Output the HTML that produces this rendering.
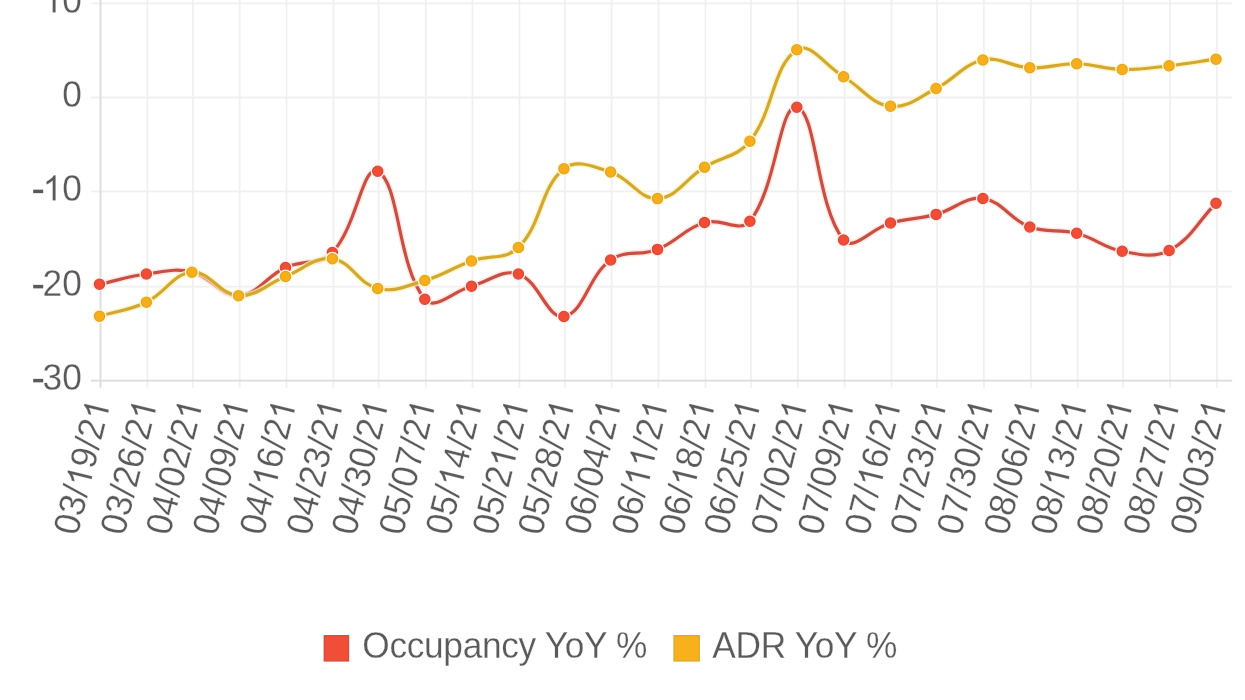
<!DOCTYPE html><html lang="en"><head><meta charset="utf-8"><title>Chart</title><style>
html,body{margin:0;padding:0;background:#fff;}body{width:1245px;height:700px;overflow:hidden;}svg{display:block;filter:blur(0.45px);}text{font-family:"Liberation Sans",sans-serif;fill:#5a5a5a;stroke:#fff;stroke-width:0.24;}
</style></head><body>
<svg width="1245" height="700" viewBox="0 0 1245 700">
<rect width="1245" height="700" fill="#fff"/>
<g stroke="#f0f0f0" stroke-width="1.8" fill="none">
<line x1="147.40" y1="-5" x2="147.40" y2="387.80"/>
<line x1="192.90" y1="-5" x2="192.90" y2="387.80"/>
<line x1="239.60" y1="-5" x2="239.60" y2="387.80"/>
<line x1="286.50" y1="-5" x2="286.50" y2="387.80"/>
<line x1="333.40" y1="-5" x2="333.40" y2="387.80"/>
<line x1="378.70" y1="-5" x2="378.70" y2="387.80"/>
<line x1="425.80" y1="-5" x2="425.80" y2="387.80"/>
<line x1="472.50" y1="-5" x2="472.50" y2="387.80"/>
<line x1="519.40" y1="-5" x2="519.40" y2="387.80"/>
<line x1="564.90" y1="-5" x2="564.90" y2="387.80"/>
<line x1="611.60" y1="-5" x2="611.60" y2="387.80"/>
<line x1="658.50" y1="-5" x2="658.50" y2="387.80"/>
<line x1="705.50" y1="-5" x2="705.50" y2="387.80"/>
<line x1="750.90" y1="-5" x2="750.90" y2="387.80"/>
<line x1="797.80" y1="-5" x2="797.80" y2="387.80"/>
<line x1="844.60" y1="-5" x2="844.60" y2="387.80"/>
<line x1="891.50" y1="-5" x2="891.50" y2="387.80"/>
<line x1="937.10" y1="-5" x2="937.10" y2="387.80"/>
<line x1="983.90" y1="-5" x2="983.90" y2="387.80"/>
<line x1="1030.80" y1="-5" x2="1030.80" y2="387.80"/>
<line x1="1077.70" y1="-5" x2="1077.70" y2="387.80"/>
<line x1="1123.20" y1="-5" x2="1123.20" y2="387.80"/>
<line x1="1170.10" y1="-5" x2="1170.10" y2="387.80"/>
<line x1="1217.00" y1="-5" x2="1217.00" y2="387.80"/>
<line x1="91.00" y1="3.40" x2="1232.20" y2="3.40"/>
<line x1="91.00" y1="97.50" x2="1232.20" y2="97.50"/>
<line x1="91.00" y1="191.40" x2="1232.20" y2="191.40"/>
<line x1="91.00" y1="286.60" x2="1232.20" y2="286.60"/>
</g>
<g stroke="#dcdcdc" stroke-width="1.9" fill="none">
<line x1="100.50" y1="-5" x2="100.50" y2="387.80"/>
<line x1="91.00" y1="380.60" x2="1232.20" y2="380.60"/>
</g>
<g font-size="35.3" text-anchor="end" style="filter:grayscale(1)">
<text transform="translate(81.80 12.60) scale(1 1.045)">&#8199;0</text>
<path d="M763 0h-180v1147q-65-62-170.5-124t-189.5-93v174q151 71 264 172t160 196h116z" fill="#5a5a5a" stroke="#fff" stroke-width="13.9" transform="translate(42.54 12.60) scale(0.01724 -0.01724)"/>
<text transform="translate(81.80 106.70) scale(1 1.045)">0</text>
<text transform="translate(81.80 200.60) scale(1 1.045)">&#8199;0</text>
<path d="M763 0h-180v1147q-65-62-170.5-124t-189.5-93v174q151 71 264 172t160 196h116z" fill="#5a5a5a" stroke="#fff" stroke-width="13.9" transform="translate(42.54 200.60) scale(0.01724 -0.01724)"/>
<rect x="33.2" y="189.65" width="10" height="3.5" fill="#5a5a5a"/>
<text transform="translate(81.80 295.80) scale(1 1.045)">20</text>
<rect x="33.2" y="284.85" width="10" height="3.5" fill="#5a5a5a"/>
<text transform="translate(81.80 389.80) scale(1 1.045)">30</text>
<rect x="33.2" y="378.85" width="10" height="3.5" fill="#5a5a5a"/>
</g>
<g font-size="35.2" text-anchor="end" style="filter:grayscale(1)">
<g transform="translate(98.90 400.60) rotate(-76)"><text transform="translate(0 12) scale(1 1.045)">03/&#8199;9/2&#8199;</text><path d="M763 0h-180v1147q-65-62-170.5-124t-189.5-93v174q151 71 264 172t160 196h116z" fill="#5a5a5a" stroke="#fff" stroke-width="14.0" transform="translate(-88.09 12.00) scale(0.01719 -0.01719)"/><path d="M763 0h-180v1147q-65-62-170.5-124t-189.5-93v174q151 71 264 172t160 196h116z" fill="#5a5a5a" stroke="#fff" stroke-width="14.0" transform="translate(-19.58 12.00) scale(0.01719 -0.01719)"/></g>
<g transform="translate(145.80 400.60) rotate(-76)"><text transform="translate(0 12) scale(1 1.045)">03/26/2&#8199;</text><path d="M763 0h-180v1147q-65-62-170.5-124t-189.5-93v174q151 71 264 172t160 196h116z" fill="#5a5a5a" stroke="#fff" stroke-width="14.0" transform="translate(-19.58 12.00) scale(0.01719 -0.01719)"/></g>
<g transform="translate(191.30 400.60) rotate(-76)"><text transform="translate(0 12) scale(1 1.045)">04/02/2&#8199;</text><path d="M763 0h-180v1147q-65-62-170.5-124t-189.5-93v174q151 71 264 172t160 196h116z" fill="#5a5a5a" stroke="#fff" stroke-width="14.0" transform="translate(-19.58 12.00) scale(0.01719 -0.01719)"/></g>
<g transform="translate(238.00 400.60) rotate(-76)"><text transform="translate(0 12) scale(1 1.045)">04/09/2&#8199;</text><path d="M763 0h-180v1147q-65-62-170.5-124t-189.5-93v174q151 71 264 172t160 196h116z" fill="#5a5a5a" stroke="#fff" stroke-width="14.0" transform="translate(-19.58 12.00) scale(0.01719 -0.01719)"/></g>
<g transform="translate(284.90 400.60) rotate(-76)"><text transform="translate(0 12) scale(1 1.045)">04/&#8199;6/2&#8199;</text><path d="M763 0h-180v1147q-65-62-170.5-124t-189.5-93v174q151 71 264 172t160 196h116z" fill="#5a5a5a" stroke="#fff" stroke-width="14.0" transform="translate(-88.09 12.00) scale(0.01719 -0.01719)"/><path d="M763 0h-180v1147q-65-62-170.5-124t-189.5-93v174q151 71 264 172t160 196h116z" fill="#5a5a5a" stroke="#fff" stroke-width="14.0" transform="translate(-19.58 12.00) scale(0.01719 -0.01719)"/></g>
<g transform="translate(331.80 400.60) rotate(-76)"><text transform="translate(0 12) scale(1 1.045)">04/23/2&#8199;</text><path d="M763 0h-180v1147q-65-62-170.5-124t-189.5-93v174q151 71 264 172t160 196h116z" fill="#5a5a5a" stroke="#fff" stroke-width="14.0" transform="translate(-19.58 12.00) scale(0.01719 -0.01719)"/></g>
<g transform="translate(377.10 400.60) rotate(-76)"><text transform="translate(0 12) scale(1 1.045)">04/30/2&#8199;</text><path d="M763 0h-180v1147q-65-62-170.5-124t-189.5-93v174q151 71 264 172t160 196h116z" fill="#5a5a5a" stroke="#fff" stroke-width="14.0" transform="translate(-19.58 12.00) scale(0.01719 -0.01719)"/></g>
<g transform="translate(424.20 400.60) rotate(-76)"><text transform="translate(0 12) scale(1 1.045)">05/07/2&#8199;</text><path d="M763 0h-180v1147q-65-62-170.5-124t-189.5-93v174q151 71 264 172t160 196h116z" fill="#5a5a5a" stroke="#fff" stroke-width="14.0" transform="translate(-19.58 12.00) scale(0.01719 -0.01719)"/></g>
<g transform="translate(470.90 400.60) rotate(-76)"><text transform="translate(0 12) scale(1 1.045)">05/&#8199;4/2&#8199;</text><path d="M763 0h-180v1147q-65-62-170.5-124t-189.5-93v174q151 71 264 172t160 196h116z" fill="#5a5a5a" stroke="#fff" stroke-width="14.0" transform="translate(-88.09 12.00) scale(0.01719 -0.01719)"/><path d="M763 0h-180v1147q-65-62-170.5-124t-189.5-93v174q151 71 264 172t160 196h116z" fill="#5a5a5a" stroke="#fff" stroke-width="14.0" transform="translate(-19.58 12.00) scale(0.01719 -0.01719)"/></g>
<g transform="translate(517.80 400.60) rotate(-76)"><text transform="translate(0 12) scale(1 1.045)">05/2&#8199;/2&#8199;</text><path d="M763 0h-180v1147q-65-62-170.5-124t-189.5-93v174q151 71 264 172t160 196h116z" fill="#5a5a5a" stroke="#fff" stroke-width="14.0" transform="translate(-68.51 12.00) scale(0.01719 -0.01719)"/><path d="M763 0h-180v1147q-65-62-170.5-124t-189.5-93v174q151 71 264 172t160 196h116z" fill="#5a5a5a" stroke="#fff" stroke-width="14.0" transform="translate(-19.58 12.00) scale(0.01719 -0.01719)"/></g>
<g transform="translate(563.30 400.60) rotate(-76)"><text transform="translate(0 12) scale(1 1.045)">05/28/2&#8199;</text><path d="M763 0h-180v1147q-65-62-170.5-124t-189.5-93v174q151 71 264 172t160 196h116z" fill="#5a5a5a" stroke="#fff" stroke-width="14.0" transform="translate(-19.58 12.00) scale(0.01719 -0.01719)"/></g>
<g transform="translate(610.00 400.60) rotate(-76)"><text transform="translate(0 12) scale(1 1.045)">06/04/2&#8199;</text><path d="M763 0h-180v1147q-65-62-170.5-124t-189.5-93v174q151 71 264 172t160 196h116z" fill="#5a5a5a" stroke="#fff" stroke-width="14.0" transform="translate(-19.58 12.00) scale(0.01719 -0.01719)"/></g>
<g transform="translate(656.90 400.60) rotate(-76)"><text transform="translate(0 12) scale(1 1.045)">06/&#8199;&#8199;/2&#8199;</text><path d="M763 0h-180v1147q-65-62-170.5-124t-189.5-93v174q151 71 264 172t160 196h116z" fill="#5a5a5a" stroke="#fff" stroke-width="14.0" transform="translate(-88.09 12.00) scale(0.01719 -0.01719)"/><path d="M763 0h-180v1147q-65-62-170.5-124t-189.5-93v174q151 71 264 172t160 196h116z" fill="#5a5a5a" stroke="#fff" stroke-width="14.0" transform="translate(-68.51 12.00) scale(0.01719 -0.01719)"/><path d="M763 0h-180v1147q-65-62-170.5-124t-189.5-93v174q151 71 264 172t160 196h116z" fill="#5a5a5a" stroke="#fff" stroke-width="14.0" transform="translate(-19.58 12.00) scale(0.01719 -0.01719)"/></g>
<g transform="translate(703.90 400.60) rotate(-76)"><text transform="translate(0 12) scale(1 1.045)">06/&#8199;8/2&#8199;</text><path d="M763 0h-180v1147q-65-62-170.5-124t-189.5-93v174q151 71 264 172t160 196h116z" fill="#5a5a5a" stroke="#fff" stroke-width="14.0" transform="translate(-88.09 12.00) scale(0.01719 -0.01719)"/><path d="M763 0h-180v1147q-65-62-170.5-124t-189.5-93v174q151 71 264 172t160 196h116z" fill="#5a5a5a" stroke="#fff" stroke-width="14.0" transform="translate(-19.58 12.00) scale(0.01719 -0.01719)"/></g>
<g transform="translate(749.30 400.60) rotate(-76)"><text transform="translate(0 12) scale(1 1.045)">06/25/2&#8199;</text><path d="M763 0h-180v1147q-65-62-170.5-124t-189.5-93v174q151 71 264 172t160 196h116z" fill="#5a5a5a" stroke="#fff" stroke-width="14.0" transform="translate(-19.58 12.00) scale(0.01719 -0.01719)"/></g>
<g transform="translate(796.20 400.60) rotate(-76)"><text transform="translate(0 12) scale(1 1.045)">07/02/2&#8199;</text><path d="M763 0h-180v1147q-65-62-170.5-124t-189.5-93v174q151 71 264 172t160 196h116z" fill="#5a5a5a" stroke="#fff" stroke-width="14.0" transform="translate(-19.58 12.00) scale(0.01719 -0.01719)"/></g>
<g transform="translate(843.00 400.60) rotate(-76)"><text transform="translate(0 12) scale(1 1.045)">07/09/2&#8199;</text><path d="M763 0h-180v1147q-65-62-170.5-124t-189.5-93v174q151 71 264 172t160 196h116z" fill="#5a5a5a" stroke="#fff" stroke-width="14.0" transform="translate(-19.58 12.00) scale(0.01719 -0.01719)"/></g>
<g transform="translate(889.90 400.60) rotate(-76)"><text transform="translate(0 12) scale(1 1.045)">07/&#8199;6/2&#8199;</text><path d="M763 0h-180v1147q-65-62-170.5-124t-189.5-93v174q151 71 264 172t160 196h116z" fill="#5a5a5a" stroke="#fff" stroke-width="14.0" transform="translate(-88.09 12.00) scale(0.01719 -0.01719)"/><path d="M763 0h-180v1147q-65-62-170.5-124t-189.5-93v174q151 71 264 172t160 196h116z" fill="#5a5a5a" stroke="#fff" stroke-width="14.0" transform="translate(-19.58 12.00) scale(0.01719 -0.01719)"/></g>
<g transform="translate(935.50 400.60) rotate(-76)"><text transform="translate(0 12) scale(1 1.045)">07/23/2&#8199;</text><path d="M763 0h-180v1147q-65-62-170.5-124t-189.5-93v174q151 71 264 172t160 196h116z" fill="#5a5a5a" stroke="#fff" stroke-width="14.0" transform="translate(-19.58 12.00) scale(0.01719 -0.01719)"/></g>
<g transform="translate(982.30 400.60) rotate(-76)"><text transform="translate(0 12) scale(1 1.045)">07/30/2&#8199;</text><path d="M763 0h-180v1147q-65-62-170.5-124t-189.5-93v174q151 71 264 172t160 196h116z" fill="#5a5a5a" stroke="#fff" stroke-width="14.0" transform="translate(-19.58 12.00) scale(0.01719 -0.01719)"/></g>
<g transform="translate(1029.20 400.60) rotate(-76)"><text transform="translate(0 12) scale(1 1.045)">08/06/2&#8199;</text><path d="M763 0h-180v1147q-65-62-170.5-124t-189.5-93v174q151 71 264 172t160 196h116z" fill="#5a5a5a" stroke="#fff" stroke-width="14.0" transform="translate(-19.58 12.00) scale(0.01719 -0.01719)"/></g>
<g transform="translate(1076.10 400.60) rotate(-76)"><text transform="translate(0 12) scale(1 1.045)">08/&#8199;3/2&#8199;</text><path d="M763 0h-180v1147q-65-62-170.5-124t-189.5-93v174q151 71 264 172t160 196h116z" fill="#5a5a5a" stroke="#fff" stroke-width="14.0" transform="translate(-88.09 12.00) scale(0.01719 -0.01719)"/><path d="M763 0h-180v1147q-65-62-170.5-124t-189.5-93v174q151 71 264 172t160 196h116z" fill="#5a5a5a" stroke="#fff" stroke-width="14.0" transform="translate(-19.58 12.00) scale(0.01719 -0.01719)"/></g>
<g transform="translate(1121.60 400.60) rotate(-76)"><text transform="translate(0 12) scale(1 1.045)">08/20/2&#8199;</text><path d="M763 0h-180v1147q-65-62-170.5-124t-189.5-93v174q151 71 264 172t160 196h116z" fill="#5a5a5a" stroke="#fff" stroke-width="14.0" transform="translate(-19.58 12.00) scale(0.01719 -0.01719)"/></g>
<g transform="translate(1168.50 400.60) rotate(-76)"><text transform="translate(0 12) scale(1 1.045)">08/27/2&#8199;</text><path d="M763 0h-180v1147q-65-62-170.5-124t-189.5-93v174q151 71 264 172t160 196h116z" fill="#5a5a5a" stroke="#fff" stroke-width="14.0" transform="translate(-19.58 12.00) scale(0.01719 -0.01719)"/></g>
<g transform="translate(1215.40 400.60) rotate(-76)"><text transform="translate(0 12) scale(1 1.045)">09/03/2&#8199;</text><path d="M763 0h-180v1147q-65-62-170.5-124t-189.5-93v174q151 71 264 172t160 196h116z" fill="#5a5a5a" stroke="#fff" stroke-width="14.0" transform="translate(-19.58 12.00) scale(0.01719 -0.01719)"/></g>
</g>
<path d="M99.50 284.25 C118.26 280.15 127.43 276.51 146.40 274.00 C164.39 271.61 174.75 267.95 191.90 272.00 C211.63 276.65 220.29 296.63 238.60 295.75 C257.73 294.83 265.75 276.61 285.50 267.50 C303.27 259.31 319.64 265.83 332.40 252.50 C356.52 227.33 362.71 163.67 377.70 171.25 C399.67 182.37 397.12 265.31 424.80 299.25 C434.64 311.31 452.78 291.30 471.50 286.25 C490.22 281.20 502.22 268.70 518.40 274.00 C539.18 280.80 546.96 319.07 563.90 316.50 C583.84 313.47 587.99 276.21 610.60 260.00 C625.43 249.37 639.84 256.45 657.50 249.40 C677.40 241.45 684.40 228.62 704.50 222.50 C721.36 217.36 739.96 233.66 749.90 221.25 C776.88 187.56 779.30 103.75 796.80 107.25 C816.78 111.25 815.93 205.82 843.60 240.00 C853.41 252.12 871.33 228.31 890.50 223.00 C908.33 218.07 918.20 219.15 936.10 214.40 C955.16 209.35 965.14 196.11 982.90 198.50 C1002.62 201.15 1009.65 219.54 1029.80 227.00 C1047.17 233.44 1058.53 228.48 1076.70 233.25 C1095.49 238.18 1103.33 247.73 1122.20 251.25 C1140.29 254.63 1153.59 258.44 1169.10 250.50 C1191.11 239.24 1197.24 222.15 1216.00 203.25" fill="none" stroke="#ffe0da" stroke-opacity="0.75" stroke-width="6.2" stroke-linejoin="round"/>
<path d="M99.50 284.25 C118.26 280.15 127.43 276.51 146.40 274.00 C164.39 271.61 174.75 267.95 191.90 272.00 C211.63 276.65 220.29 296.63 238.60 295.75 C257.73 294.83 265.75 276.61 285.50 267.50 C303.27 259.31 319.64 265.83 332.40 252.50 C356.52 227.33 362.71 163.67 377.70 171.25 C399.67 182.37 397.12 265.31 424.80 299.25 C434.64 311.31 452.78 291.30 471.50 286.25 C490.22 281.20 502.22 268.70 518.40 274.00 C539.18 280.80 546.96 319.07 563.90 316.50 C583.84 313.47 587.99 276.21 610.60 260.00 C625.43 249.37 639.84 256.45 657.50 249.40 C677.40 241.45 684.40 228.62 704.50 222.50 C721.36 217.36 739.96 233.66 749.90 221.25 C776.88 187.56 779.30 103.75 796.80 107.25 C816.78 111.25 815.93 205.82 843.60 240.00 C853.41 252.12 871.33 228.31 890.50 223.00 C908.33 218.07 918.20 219.15 936.10 214.40 C955.16 209.35 965.14 196.11 982.90 198.50 C1002.62 201.15 1009.65 219.54 1029.80 227.00 C1047.17 233.44 1058.53 228.48 1076.70 233.25 C1095.49 238.18 1103.33 247.73 1122.20 251.25 C1140.29 254.63 1153.59 258.44 1169.10 250.50 C1191.11 239.24 1197.24 222.15 1216.00 203.25" fill="none" stroke="#cb4e42" stroke-width="3.2" stroke-linecap="butt" stroke-linejoin="round"/>
<g fill="#fff0ec">
<circle cx="99.50" cy="284.25" r="7.0"/>
<circle cx="146.40" cy="274.00" r="7.0"/>
<circle cx="191.90" cy="272.00" r="7.0"/>
<circle cx="238.60" cy="295.75" r="7.0"/>
<circle cx="285.50" cy="267.50" r="7.0"/>
<circle cx="332.40" cy="252.50" r="7.0"/>
<circle cx="377.70" cy="171.25" r="7.0"/>
<circle cx="424.80" cy="299.25" r="7.0"/>
<circle cx="471.50" cy="286.25" r="7.0"/>
<circle cx="518.40" cy="274.00" r="7.0"/>
<circle cx="563.90" cy="316.50" r="7.0"/>
<circle cx="610.60" cy="260.00" r="7.0"/>
<circle cx="657.50" cy="249.40" r="7.0"/>
<circle cx="704.50" cy="222.50" r="7.0"/>
<circle cx="749.90" cy="221.25" r="7.0"/>
<circle cx="796.80" cy="107.25" r="7.0"/>
<circle cx="843.60" cy="240.00" r="7.0"/>
<circle cx="890.50" cy="223.00" r="7.0"/>
<circle cx="936.10" cy="214.40" r="7.0"/>
<circle cx="982.90" cy="198.50" r="7.0"/>
<circle cx="1029.80" cy="227.00" r="7.0"/>
<circle cx="1076.70" cy="233.25" r="7.0"/>
<circle cx="1122.20" cy="251.25" r="7.0"/>
<circle cx="1169.10" cy="250.50" r="7.0"/>
<circle cx="1216.00" cy="203.25" r="7.0"/>
</g>
<g fill="#f24c35" stroke="#d9493a" stroke-width="1.3">
<circle cx="99.50" cy="284.25" r="5.10"/>
<circle cx="146.40" cy="274.00" r="5.10"/>
<circle cx="191.90" cy="272.00" r="5.10"/>
<circle cx="238.60" cy="295.75" r="5.10"/>
<circle cx="285.50" cy="267.50" r="5.10"/>
<circle cx="332.40" cy="252.50" r="5.10"/>
<circle cx="377.70" cy="171.25" r="5.10"/>
<circle cx="424.80" cy="299.25" r="5.10"/>
<circle cx="471.50" cy="286.25" r="5.10"/>
<circle cx="518.40" cy="274.00" r="5.10"/>
<circle cx="563.90" cy="316.50" r="5.10"/>
<circle cx="610.60" cy="260.00" r="5.10"/>
<circle cx="657.50" cy="249.40" r="5.10"/>
<circle cx="704.50" cy="222.50" r="5.10"/>
<circle cx="749.90" cy="221.25" r="5.10"/>
<circle cx="796.80" cy="107.25" r="5.10"/>
<circle cx="843.60" cy="240.00" r="5.10"/>
<circle cx="890.50" cy="223.00" r="5.10"/>
<circle cx="936.10" cy="214.40" r="5.10"/>
<circle cx="982.90" cy="198.50" r="5.10"/>
<circle cx="1029.80" cy="227.00" r="5.10"/>
<circle cx="1076.70" cy="233.25" r="5.10"/>
<circle cx="1122.20" cy="251.25" r="5.10"/>
<circle cx="1169.10" cy="250.50" r="5.10"/>
<circle cx="1216.00" cy="203.25" r="5.10"/>
</g>
<path d="M99.50 316.20 C118.26 310.60 128.91 310.52 146.40 302.20 C165.87 292.94 173.08 273.57 191.90 272.25 C209.96 270.99 219.59 294.89 238.60 295.75 C257.03 296.59 266.64 283.94 285.50 276.50 C304.16 269.14 314.68 256.44 332.40 258.75 C351.56 261.24 358.06 283.88 377.70 288.50 C395.02 292.58 406.58 285.84 424.80 280.50 C444.10 274.84 452.44 267.72 471.50 261.00 C489.88 254.52 505.49 260.39 518.40 247.50 C542.45 223.49 539.55 188.69 563.90 168.75 C576.43 158.49 593.20 166.45 610.60 172.00 C630.64 178.39 639.16 199.54 657.50 198.60 C676.72 197.62 685.30 179.12 704.50 167.20 C722.26 156.18 737.45 157.09 749.90 141.25 C774.37 110.11 772.23 66.66 796.80 49.75 C809.71 40.86 825.10 65.59 843.60 76.75 C862.58 88.19 870.85 103.75 890.50 106.25 C907.85 108.45 918.66 97.23 936.10 88.50 C955.62 78.73 962.83 64.44 982.90 60.00 C1000.31 56.14 1010.95 67.00 1029.80 67.75 C1048.47 68.50 1057.98 63.40 1076.70 63.75 C1094.94 64.10 1103.96 69.11 1122.20 69.50 C1140.92 69.91 1150.40 67.80 1169.10 65.75 C1187.92 63.68 1197.24 61.82 1216.00 59.20" fill="none" stroke="#fff1b8" stroke-opacity="0.75" stroke-width="6.2" stroke-linejoin="round"/>
<path d="M99.50 316.20 C118.26 310.60 128.91 310.52 146.40 302.20 C165.87 292.94 173.08 273.57 191.90 272.25 C209.96 270.99 219.59 294.89 238.60 295.75 C257.03 296.59 266.64 283.94 285.50 276.50 C304.16 269.14 314.68 256.44 332.40 258.75 C351.56 261.24 358.06 283.88 377.70 288.50 C395.02 292.58 406.58 285.84 424.80 280.50 C444.10 274.84 452.44 267.72 471.50 261.00 C489.88 254.52 505.49 260.39 518.40 247.50 C542.45 223.49 539.55 188.69 563.90 168.75 C576.43 158.49 593.20 166.45 610.60 172.00 C630.64 178.39 639.16 199.54 657.50 198.60 C676.72 197.62 685.30 179.12 704.50 167.20 C722.26 156.18 737.45 157.09 749.90 141.25 C774.37 110.11 772.23 66.66 796.80 49.75 C809.71 40.86 825.10 65.59 843.60 76.75 C862.58 88.19 870.85 103.75 890.50 106.25 C907.85 108.45 918.66 97.23 936.10 88.50 C955.62 78.73 962.83 64.44 982.90 60.00 C1000.31 56.14 1010.95 67.00 1029.80 67.75 C1048.47 68.50 1057.98 63.40 1076.70 63.75 C1094.94 64.10 1103.96 69.11 1122.20 69.50 C1140.92 69.91 1150.40 67.80 1169.10 65.75 C1187.92 63.68 1197.24 61.82 1216.00 59.20" fill="none" stroke="#d2a830" stroke-width="3.2" stroke-linecap="butt" stroke-linejoin="round"/>
<g fill="#fff8da">
<circle cx="99.50" cy="316.20" r="7.0"/>
<circle cx="146.40" cy="302.20" r="7.0"/>
<circle cx="191.90" cy="272.25" r="7.0"/>
<circle cx="238.60" cy="295.75" r="7.0"/>
<circle cx="285.50" cy="276.50" r="7.0"/>
<circle cx="332.40" cy="258.75" r="7.0"/>
<circle cx="377.70" cy="288.50" r="7.0"/>
<circle cx="424.80" cy="280.50" r="7.0"/>
<circle cx="471.50" cy="261.00" r="7.0"/>
<circle cx="518.40" cy="247.50" r="7.0"/>
<circle cx="563.90" cy="168.75" r="7.0"/>
<circle cx="610.60" cy="172.00" r="7.0"/>
<circle cx="657.50" cy="198.60" r="7.0"/>
<circle cx="704.50" cy="167.20" r="7.0"/>
<circle cx="749.90" cy="141.25" r="7.0"/>
<circle cx="796.80" cy="49.75" r="7.0"/>
<circle cx="843.60" cy="76.75" r="7.0"/>
<circle cx="890.50" cy="106.25" r="7.0"/>
<circle cx="936.10" cy="88.50" r="7.0"/>
<circle cx="982.90" cy="60.00" r="7.0"/>
<circle cx="1029.80" cy="67.75" r="7.0"/>
<circle cx="1076.70" cy="63.75" r="7.0"/>
<circle cx="1122.20" cy="69.50" r="7.0"/>
<circle cx="1169.10" cy="65.75" r="7.0"/>
<circle cx="1216.00" cy="59.20" r="7.0"/>
</g>
<g fill="#f8ae18" stroke="#e0a726" stroke-width="1.3">
<circle cx="99.50" cy="316.20" r="5.10"/>
<circle cx="146.40" cy="302.20" r="5.10"/>
<circle cx="191.90" cy="272.25" r="5.10"/>
<circle cx="238.60" cy="295.75" r="5.10"/>
<circle cx="285.50" cy="276.50" r="5.10"/>
<circle cx="332.40" cy="258.75" r="5.10"/>
<circle cx="377.70" cy="288.50" r="5.10"/>
<circle cx="424.80" cy="280.50" r="5.10"/>
<circle cx="471.50" cy="261.00" r="5.10"/>
<circle cx="518.40" cy="247.50" r="5.10"/>
<circle cx="563.90" cy="168.75" r="5.10"/>
<circle cx="610.60" cy="172.00" r="5.10"/>
<circle cx="657.50" cy="198.60" r="5.10"/>
<circle cx="704.50" cy="167.20" r="5.10"/>
<circle cx="749.90" cy="141.25" r="5.10"/>
<circle cx="796.80" cy="49.75" r="5.10"/>
<circle cx="843.60" cy="76.75" r="5.10"/>
<circle cx="890.50" cy="106.25" r="5.10"/>
<circle cx="936.10" cy="88.50" r="5.10"/>
<circle cx="982.90" cy="60.00" r="5.10"/>
<circle cx="1029.80" cy="67.75" r="5.10"/>
<circle cx="1076.70" cy="63.75" r="5.10"/>
<circle cx="1122.20" cy="69.50" r="5.10"/>
<circle cx="1169.10" cy="65.75" r="5.10"/>
<circle cx="1216.00" cy="59.20" r="5.10"/>
</g>
<rect x="324.35" y="635.75" width="24.10" height="25.10" fill="#f04e37" stroke="#d2503f" stroke-width="1.5"/>
<rect x="674.15" y="635.75" width="25.00" height="25.10" fill="#f8b01c" stroke="#dcaa28" stroke-width="1.5"/>
<g font-size="35.3" letter-spacing="-0.33" style="filter:grayscale(1)">
<text transform="translate(362.3 658) scale(1 1.045)">Occupancy YoY %</text>
<text transform="translate(712.3 658) scale(1 1.045)">ADR YoY %</text>
</g>
</svg></body></html>
